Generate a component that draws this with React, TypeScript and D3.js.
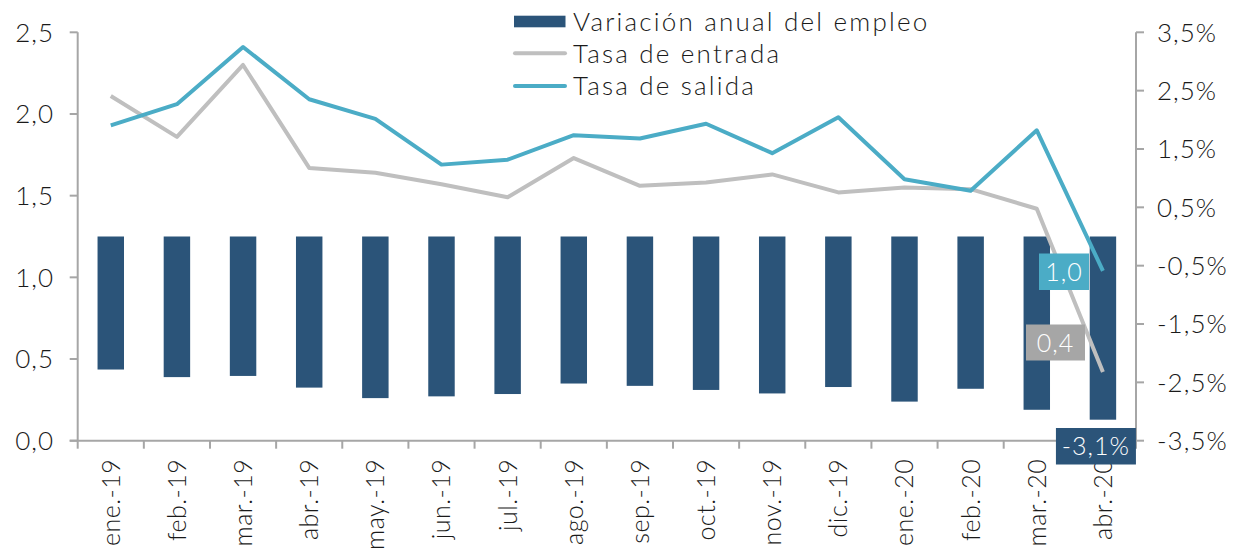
import React from 'react';
import * as d3 from 'd3';

const WIDTH = 1233;
const HEIGHT = 558;
const MARGIN = { top: 32.3, right: 97, bottom: 117.3, left: 77.7 };

const months = [
  'ene.-19', 'feb.-19', 'mar.-19', 'abr.-19', 'may.-19', 'jun.-19', 'jul.-19', 'ago.-19',
  'sep.-19', 'oct.-19', 'nov.-19', 'dic.-19', 'ene.-20', 'feb.-20', 'mar.-20', 'abr.-20',
];
// variación anual del empleo (%), eje derecho
const empleo = [-2.28, -2.41, -2.39, -2.59, -2.77, -2.74, -2.7, -2.52, -2.56, -2.63, -2.69, -2.58, -2.83, -2.61, -2.97, -3.14];
// tasas, eje izquierdo
const entrada = [2.11, 1.86, 2.3, 1.67, 1.64, 1.57, 1.49, 1.73, 1.56, 1.58, 1.63, 1.52, 1.55, 1.54, 1.42, 0.42];
const salida = [1.93, 2.06, 2.41, 2.09, 1.97, 1.69, 1.72, 1.87, 1.85, 1.94, 1.76, 1.98, 1.6, 1.53, 1.9, 1.04];

const leftTicks = [0, 0.5, 1, 1.5, 2, 2.5];
const rightTicks = [-3.5, -2.5, -1.5, -0.5, 0.5, 1.5, 2.5, 3.5];

const NAVY = '#2b5479';
const GRAY = '#bfbfbf';
const TEAL = '#4bacc6';
const AXIS = '#a6a6a6';
const FONT = 'Lato, "Open Sans", sans-serif';

const fmt = (v: number, d = 1) => v.toFixed(d).replace('.', ',');

export default function App() {
  const x0 = MARGIN.left;
  const x1 = WIDTH - MARGIN.right;
  const y0 = HEIGHT - MARGIN.bottom;
  const y1 = MARGIN.top;

  const x = d3.scaleBand<string>().domain(months).range([x0, x1]).padding(0);
  const yL = d3.scaleLinear().domain([0, 2.5]).range([y0, y1]);
  const yR = d3.scaleLinear().domain([-3.5, 3.5]).range([y0, y1]);
  const barW = x.bandwidth() * 0.4;
  const cx = (m: string) => (x(m) ?? 0) + x.bandwidth() / 2;

  const line = d3
    .line<number>()
    .x((_, i) => cx(months[i]))
    .y((d) => yL(d));

  const last = months.length - 1;
  const lastX = cx(months[last]);

  return (
    <svg width={WIDTH} height={HEIGHT} style={{ position: 'absolute', left: 0, top: 0 }} fontFamily={FONT}>
      <rect width={WIDTH} height={HEIGHT} fill="#fff" />

      {/* bars */}
      {empleo.map((v, i) => (
        <rect
          key={months[i]}
          x={cx(months[i]) - barW / 2}
          y={yR(Math.max(0, v))}
          width={barW}
          height={Math.abs(yR(v) - yR(0))}
          fill={NAVY}
        />
      ))}

      {/* lines */}
      <path d={line(entrada) ?? ''} fill="none" stroke={GRAY} strokeWidth={4} strokeLinejoin="round" />
      <path d={line(salida) ?? ''} fill="none" stroke={TEAL} strokeWidth={4} strokeLinejoin="round" />

      {/* axes */}
      <g stroke={AXIS} strokeWidth={2}>
        <line x1={x0} x2={x0} y1={y1} y2={y0} />
        <line x1={x1} x2={x1} y1={y1} y2={y0} />
        <line x1={x0 - 8} x2={x1} y1={y0} y2={y0} />
        {leftTicks.map((t) => (
          <line key={t} x1={x0 - 8} x2={x0} y1={yL(t)} y2={yL(t)} />
        ))}
        {rightTicks.map((t) => (
          <line key={t} x1={x1} x2={x1 + 8} y1={yR(t)} y2={yR(t)} />
        ))}
        {months.map((m) => (
          <line key={m} x1={x(m)} x2={x(m)} y1={y0} y2={y0 + 8} />
        ))}
        <line x1={x1} x2={x1} y1={y0} y2={y0 + 8} />
      </g>

      <g fontSize={26} fill="#1a1a1a" fontWeight={300} letterSpacing={1}>
        {leftTicks.map((t) => (
          <text key={t} x={54} y={yL(t)} dy="0.36em" textAnchor="end">
            {fmt(t)}
          </text>
        ))}
        {rightTicks.map((t) => (
          <text key={t} x={1157} y={yR(t)} dy="0.36em">
            {fmt(t)}%
          </text>
        ))}
        {months.map((m) => (
          <text
            key={m}
            transform={`translate(${cx(m)},${y0 + 18}) rotate(-90)`}
            dy="0.36em"
            textAnchor="end"
            fontSize={25}
            letterSpacing={0.5}
          >
            {m}
          </text>
        ))}
      </g>

      {/* data labels */}
      <g fontSize={25} fill="#fff" fontWeight={300} letterSpacing={1}>
        <rect x={1039} y={253.5} width={50} height={36.5} fill={TEAL} />
        <text x={1064} y={271.7} dy="0.36em" textAnchor="middle">
          {fmt(salida[last])}
        </text>
        <rect x={1026} y={324.5} width={59} height={36} fill="#a6a6a6" />
        <text x={1055.5} y={342.5} dy="0.36em" textAnchor="middle">
          {fmt(entrada[last])}
        </text>
        <rect x={lastX - 47} y={428} width={80} height={36.5} fill={NAVY} />
        <text x={lastX - 7} y={446.3} dy="0.36em" textAnchor="middle">
          {fmt(empleo[last])}%
        </text>
      </g>

      {/* legend */}
      <g fontSize={26} fill="#1a1a1a" fontWeight={300} letterSpacing={2.2}>
        <rect x={514} y={15.7} width={51.5} height={11.6} fill={NAVY} />
        <text x={573} y={21.5} dy="0.36em">Variación anual del empleo</text>
        <line x1={515} x2={565} y1={53.3} y2={53.3} stroke={GRAY} strokeWidth={4} strokeLinecap="round" />
        <text x={573} y={53.5} dy="0.36em">Tasa de entrada</text>
        <line x1={515} x2={565} y1={86} y2={86} stroke={TEAL} strokeWidth={4} strokeLinecap="round" />
        <text x={573} y={86} dy="0.36em">Tasa de salida</text>
      </g>
    </svg>
  );
}
